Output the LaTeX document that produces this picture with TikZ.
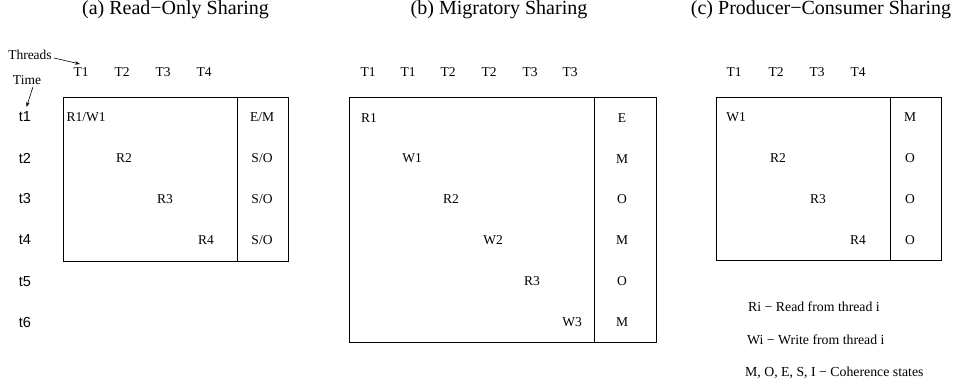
\documentclass[tikz,border=0pt]{standalone}
\usepackage{fontspec}
\usetikzlibrary{arrows.meta}
\setmainfont{Liberation Serif}
\newfontfamily\lsans{Liberation Sans}
\begin{document}
\begin{tikzpicture}[x=1pt,y=-1pt,
  lbl/.style={inner sep=0pt, font=\fontsize{13.5}{15}\selectfont},
  leg/.style={inner sep=0pt, anchor=west, font=\fontsize{13.8}{15}\selectfont},
  tlbl/.style={inner sep=0pt, font=\lsans\fontsize{14.5}{16}\selectfont},
  ttl/.style={inner sep=0pt, anchor=base, font=\fontsize{20}{22}\selectfont},
  frame/.style={draw, line width=0.8pt},
  pt/.style={-{Stealth[length=5pt,width=3.5pt]}, line width=0.6pt}]
\useasboundingbox (0,0) rectangle (956,387);
% titles
\node[ttl] (ta) at (175.5,14.5) {(a) Read{\textminus}Only Sharing};
\node[ttl] (tb) at (499,14.5) {(b) Migratory Sharing};
\node[ttl] (tc) at (821,14.5) {(c) Producer{\textminus}Consumer Sharing};
% axis labels
\node[lbl] (threads) at (30,55) {Threads};
\node[lbl] (time) at (27,80) {Time};
% time labels
\foreach \i/\y in {1/117,2/158,3/199,4/240,5/281.5,6/322.5}
  \node[tlbl] (t\i) at (25,\y) {t\i};
\coordinate (thr) at (80,64);
\draw[pt] (threads.east) ++(2,3) -- (thr);
\draw[pt, shorten >=5pt] (time.south) ++(6,2) -- (t1.north);
% panel a
\draw[frame] (63,97.3) rectangle (288,261.5);
\draw[frame] (237,97.3) -- (237,261.5);
\foreach \i/\x in {1/81,2/122,3/163,4/204}
  \node[lbl] (aT\i) at (\x,72) {T\i};
\node[lbl] (ae1) at (86,117.5) {R1/W1};
\node[lbl] (ae2) at (124,158) {R2};
\node[lbl] (ae3) at (165,199.5) {R3};
\node[lbl] (ae4) at (206,240) {R4};
\node[lbl] (as1) at (262,117.5) {E/M};
\node[lbl] (as2) at (262,158) {S/O};
\node[lbl] (as3) at (262,199.5) {S/O};
\node[lbl] (as4) at (262,240) {S/O};
% panel b
\draw[frame] (349,97.3) rectangle (656,342.7);
\draw[frame] (594,97.3) -- (594,342.7);
\foreach \n/\t/\x in {1/T1/368,2/T1/408,3/T2/448,4/T2/489,5/T3/530,6/T3/570}
  \node[lbl] (bT\n) at (\x,72) {\t};
\foreach \n/\t/\x/\y in {1/R1/369/118,2/W1/412/158,3/R2/451/199.5,4/W2/493/240.5,5/R3/532/281.5,6/W3/572/322.5}
  \node[lbl] (be\n) at (\x,\y) {\t};
\foreach \n/\t/\y in {1/E/118,2/M/159,3/O/199.5,4/M/240.5,5/O/281.5,6/M/322.5}
  \node[lbl] (bs\n) at (622,\y) {\t};
% panel c
\draw[frame] (716,97.3) rectangle (941,260.7);
\draw[frame] (890,97.3) -- (890,260.7);
\foreach \i/\x in {1/734,2/776,3/817,4/858}
  \node[lbl] (cT\i) at (\x,72) {T\i};
\foreach \n/\t/\x/\y in {1/W1/736/117.5,2/R2/778/158,3/R3/818/199.5,4/R4/858/240}
  \node[lbl] (ce\n) at (\x,\y) {\t};
\foreach \n/\t/\y in {1/M/117.5,2/O/158,3/O/199.5,4/O/240}
  \node[lbl] (cs\n) at (910,\y) {\t};
% legend
\node[leg] (lg1) at (748,306.5) {Ri {\textminus} Read from thread i};
\node[leg] (lg2) at (747,340) {Wi {\textminus} Write from thread i};
\node[leg] (lg3) at (745,373) {M, O, E, S, I {\textminus} Coherence states};
\end{tikzpicture}
\end{document}
